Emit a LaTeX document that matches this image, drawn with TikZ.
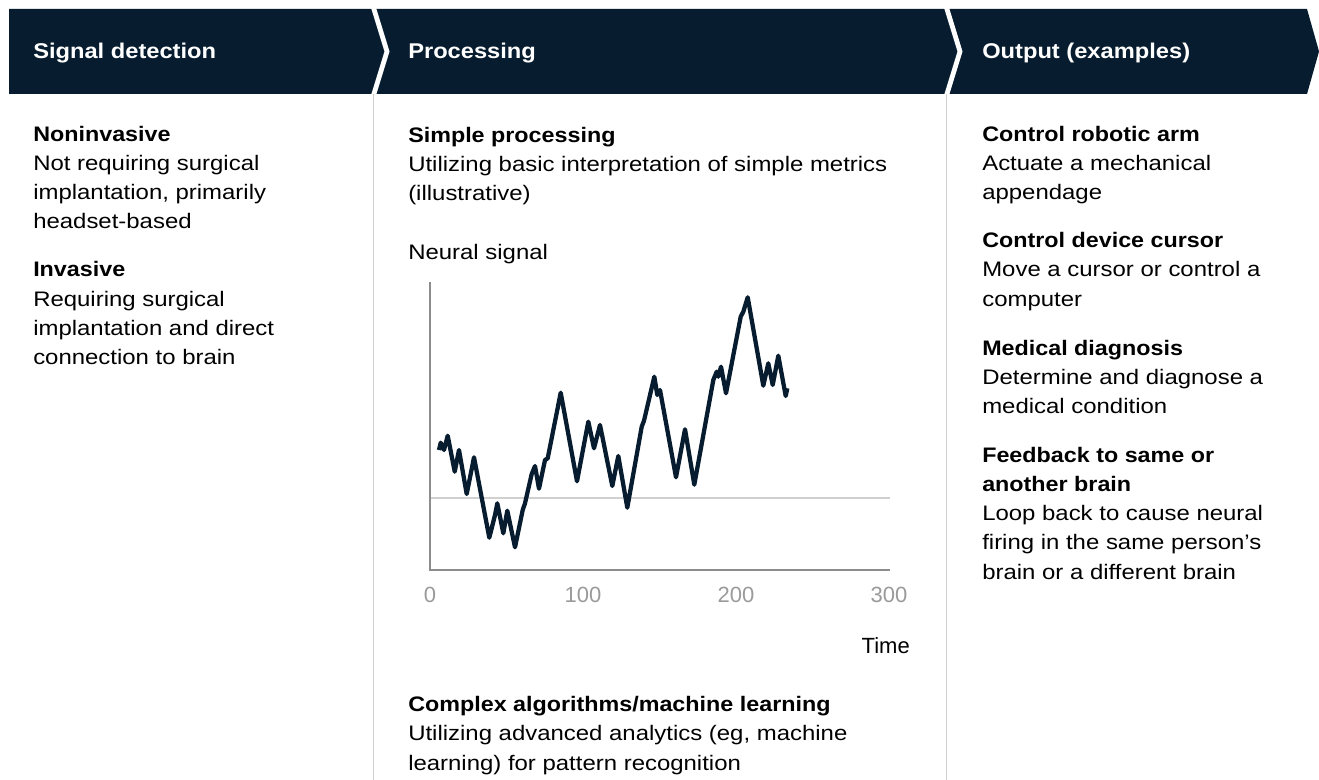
\documentclass[tikz,border=0pt]{standalone}
\usepackage{fontspec}
\setmainfont{Liberation Sans}[FakeStretch=1.14,BoldFeatures={FakeStretch=1.11}]
\newfontfamily\chartfont{Liberation Sans}
\definecolor{navy}{HTML}{071D2F}
\definecolor{rulegray}{HTML}{D0D0D0}
\definecolor{axisgray}{HTML}{8C8C8C}
\definecolor{tickgray}{HTML}{9A9A9A}
\tikzset{
  headtext/.style={text=white, anchor=base west, inner sep=0pt, font=\bfseries\fontsize{16pt}{19pt}\selectfont},
  bodytext/.style={anchor=base west, align=left, inner sep=0pt, font=\fontsize{15.75pt}{21.9pt}\selectfont},
  ticktext/.style={text=tickgray, font=\chartfont\fontsize{16.5pt}{18pt}\selectfont},
}
\begin{document}
\begin{tikzpicture}[x=0.75pt,y=-0.75pt]
    \useasboundingbox (0,0) rectangle (1319,780);
    % header bar with chevrons
    \fill[navy] (9,9) -- (1307,9) -- (1319,51.5) -- (1307,94) -- (9,94) -- cycle;
    \draw[white, line width=3.6pt] (373,6) -- (387,51.5) -- (373,97);
    \draw[white, line width=3.6pt] (946,6) -- (960,51.5) -- (946,97);
    \node[headtext] (hsig) at (33,59) {Signal detection};
    \node[headtext] (hproc) at (408,59) {Processing};
    \node[headtext] (hout) at (982,59) {Output (examples)};
    % column rules
    \draw[rulegray] (373,94) -- (373,780);
    \draw[rulegray] (946,94) -- (946,780);
    % signal detection (nodes sit on the baseline of their last line)
    \node[bodytext] (noninv) at (33,229) {\textbf{Noninvasive}\\Not requiring surgical\\implantation, primarily\\headset-based};
    \node[bodytext] (inv) at (33,364.5) {\textbf{Invasive}\\Requiring surgical\\implantation and direct\\connection to brain};
    % processing
    \node[bodytext] (simple) at (408,201) {\textbf{Simple processing}\\Utilizing basic interpretation of simple metrics\\(illustrative)};
    \node[bodytext] (ylabel) at (408,260) {Neural signal};
    \node[bodytext] (complex) at (408,770) {\textbf{Complex algorithms/machine learning}\\Utilizing advanced analytics (eg, machine\\learning) for pattern recognition};
    % chart
    \draw[rulegray, line width=0.9pt] (430,498) -- (890,498);
    \draw[axisgray, line width=1.2pt] (430,282) -- (430,570) -- (890,570);
    \foreach \t in {0,100,200,300}
        \node[ticktext] (tick\t) at ({430+1.53*\t},595) {\t};
    \node[anchor=base east, inner sep=0pt, font=\chartfont\fontsize{16.5pt}{18pt}\selectfont] (time) at (910,653) {Time};
    \draw[navy, line width=3.2pt, line join=round] plot coordinates {
        (439,450) (440.7,442.7) (444,450) (447.7,435.7) (454.7,471.7) (459,450)
        (466.7,494) (474,457.3) (489.3,537.7) (495,515) (497.3,503.3) (503.3,533.3)
        (507.3,510.7) (515,547.3) (522.7,510) (525,503.3) (531.7,474) (535,466)
        (539,488.7) (545,460) (547.7,458.3) (560.7,392.7) (577,481.3) (588.3,421.7)
        (594,448.3) (600,425) (612.3,486) (618.3,456) (627.3,507.7) (641.7,426.7)
        (644,420.7) (654.3,376.7) (657.3,395) (660,390) (676,477.3) (685,429.3)
        (694.3,484.7) (713.3,380) (716.7,371.7) (718.3,376.7) (721,366.7) (726,393.3)
        (740.7,316.7) (743.3,311.7) (747.7,297.3) (763.3,385.7) (768.3,363.3) (772.7,385)
        (778.3,355.7) (785.7,396) (787.3,388.3)};
    % output
    \node[bodytext] (robot) at (982,200) {\textbf{Control robotic arm}\\Actuate a mechanical\\appendage};
    \node[bodytext] (cursor) at (982,306) {\textbf{Control device cursor}\\Move a cursor or control a\\computer};
    \node[bodytext] (medic) at (982,413.5) {\textbf{Medical diagnosis}\\Determine and diagnose a\\medical condition};
    \node[bodytext] (feed) at (982,579) {\textbf{Feedback to same or}\\\textbf{another brain}\\Loop back to cause neural\\firing in the same person’s\\brain or a different brain};
\end{tikzpicture}
\end{document}
